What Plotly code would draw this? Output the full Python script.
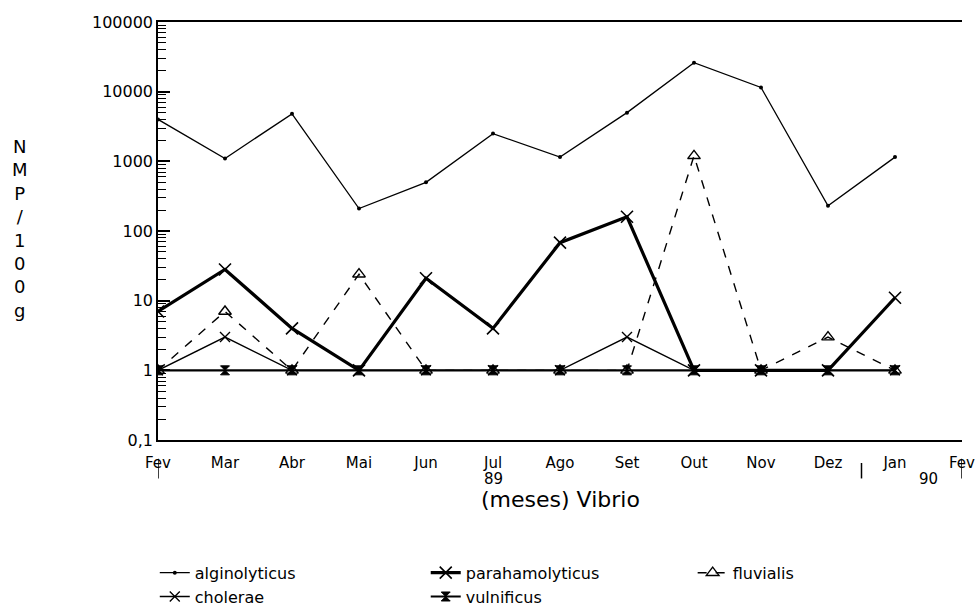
import plotly.graph_objects as go

# Months of sampling (Feb 1989 - Jan 1990); the last tick closes the year
months = ["Fev", "Mar", "Abr", "Mai", "Jun", "Jul", "Ago", "Set", "Out", "Nov", "Dez", "Jan"]
tick_months = months + ["Fev"]

# NMP/100 g per species
alginolyticus = [4000, 1100, 4800, 210, 500, 2500, 1150, 5000, 26000, 11500, 230, 1150]
parahamolyticus = [7, 28, 4, 1, 21, 4, 68, 160, 1, 1, 1, 11]
fluvialis = [1, 7, 1, 24, 1, 1, 1, 1, 1200, 1, 3, 1]
cholerae = [1, 3, 1, 1, 1, 1, 1, 3, 1, 1, 1, 1]
vulnificus = [1, 1, 1, 1, 1, 1, 1, 1, 1, 1, 1, 1]

y_tickvals = [0.1, 1, 10, 100, 1000, 10000, 100000]
y_ticktext = ["0,1", "1", "10", "100", "1000", "10000", "100000"]
year_labels = [("89", 5), ("90", 11.5)]

FONT = "DejaVu Sans"
x = list(range(len(months)))

fig = go.Figure()

# legend columns: (alginolyticus, cholerae) | (parahamolyticus, vulnificus) | (fluvialis)
fig.add_trace(go.Scatter(
    x=x, y=alginolyticus, name="alginolyticus", mode="lines+markers",
    line=dict(color="black", width=1.3),
    marker=dict(symbol="circle", size=4, color="black"),
    legend="legend", legendrank=1,
))
fig.add_trace(go.Scatter(
    x=x, y=cholerae, name="cholerae", mode="lines+markers",
    line=dict(color="black", width=1.4),
    marker=dict(symbol="x-thin", size=10, color="black",
                line=dict(color="black", width=1.4)),
    legend="legend", legendrank=2,
))
fig.add_trace(go.Scatter(
    x=x, y=fluvialis, name="fluvialis", mode="lines+markers",
    line=dict(color="black", width=1.4, dash="dash"),
    marker=dict(symbol="triangle-up-open", size=11, color="black",
                line=dict(color="black", width=1.4)),
    legend="legend3", legendrank=1,
))
fig.add_trace(go.Scatter(
    x=x, y=vulnificus, name="vulnificus", mode="lines+markers",
    line=dict(color="black", width=2.2),
    marker=dict(symbol="hourglass", size=9, color="black",
                line=dict(color="black", width=1)),
    legend="legend2", legendrank=2,
))
fig.add_trace(go.Scatter(
    x=x, y=parahamolyticus, name="parahamolyticus", mode="lines+markers",
    line=dict(color="black", width=3.2),
    marker=dict(symbol="x-thin", size=12, color="black",
                line=dict(color="black", width=1.6)),
    legend="legend2", legendrank=1,
))

# minor ticks 2..9 inside every decade of the log axis
minor_vals = [k * 10.0 ** d for d in range(-1, 5) for k in range(2, 10)]

fig.update_yaxes(
    type="log", range=[-1, 5],
    tickmode="array", tickvals=y_tickvals, ticktext=y_ticktext,
    ticks="inside", ticklen=12, tickwidth=1.5, tickcolor="black",
    minor=dict(tickmode="array", tickvals=minor_vals, ticks="inside",
               ticklen=8, tickwidth=1.3, tickcolor="black", showgrid=False),
    showline=True, linecolor="black", linewidth=1.5, mirror=False,
    showgrid=False, zeroline=False,
    tickfont=dict(family=FONT, size=16, color="black"),
)
fig.update_xaxes(
    range=[0, 12],
    tickmode="array", tickvals=list(range(len(tick_months))), ticktext=tick_months,
    ticks="", ticklabelstandoff=8,
    showline=True, linecolor="black", linewidth=1.5, mirror=True,
    showgrid=False, zeroline=False,
    tickfont=dict(family=FONT, size=15, color="black"),
)

# year separators below the month labels
for xv, y0 in [(0, -0.045), (10.5, -0.055), (12, -0.045)]:
    fig.add_shape(type="line", xref="x", yref="paper", x0=xv, x1=xv,
                  y0=y0, y1=-0.092, line=dict(color="black", width=1.5))

annotations = [
    dict(text=t, x=xv, y=-0.094, xref="x", yref="paper", showarrow=False,
         yanchor="middle", font=dict(family=FONT, size=15, color="black"))
    for t, xv in year_labels
]
annotations.append(dict(
    text="(meses) Vibrio", x=0.5, y=-0.143, xref="paper", yref="paper",
    showarrow=False, yanchor="middle", font=dict(family=FONT, size=22, color="black"),
))
annotations.append(dict(
    text="<br>".join("NMP/100g"), x=-138 / 804, y=0.505, xref="paper", yref="paper",
    showarrow=False, xanchor="center", yanchor="middle",
    font=dict(family=FONT, size=18, color="black"),
))

legend_style = dict(orientation="v", y=-0.277, xanchor="left", yanchor="top",
                    itemwidth=30, bgcolor="rgba(0,0,0,0)", tracegroupgap=0,
                    font=dict(family=FONT, size=16, color="black"))

fig.update_layout(
    width=979, height=608,
    margin=dict(l=158, r=17, t=22, b=168, autoexpand=False),
    paper_bgcolor="white", plot_bgcolor="white",
    font=dict(family=FONT, color="black"),
    annotations=annotations,
    legend=dict(x=-0.004, **legend_style),
    legend2=dict(x=0.333, **legend_style),
    legend3=dict(x=0.665, **legend_style),
    showlegend=True,
)

fig.write_html("out.html")
